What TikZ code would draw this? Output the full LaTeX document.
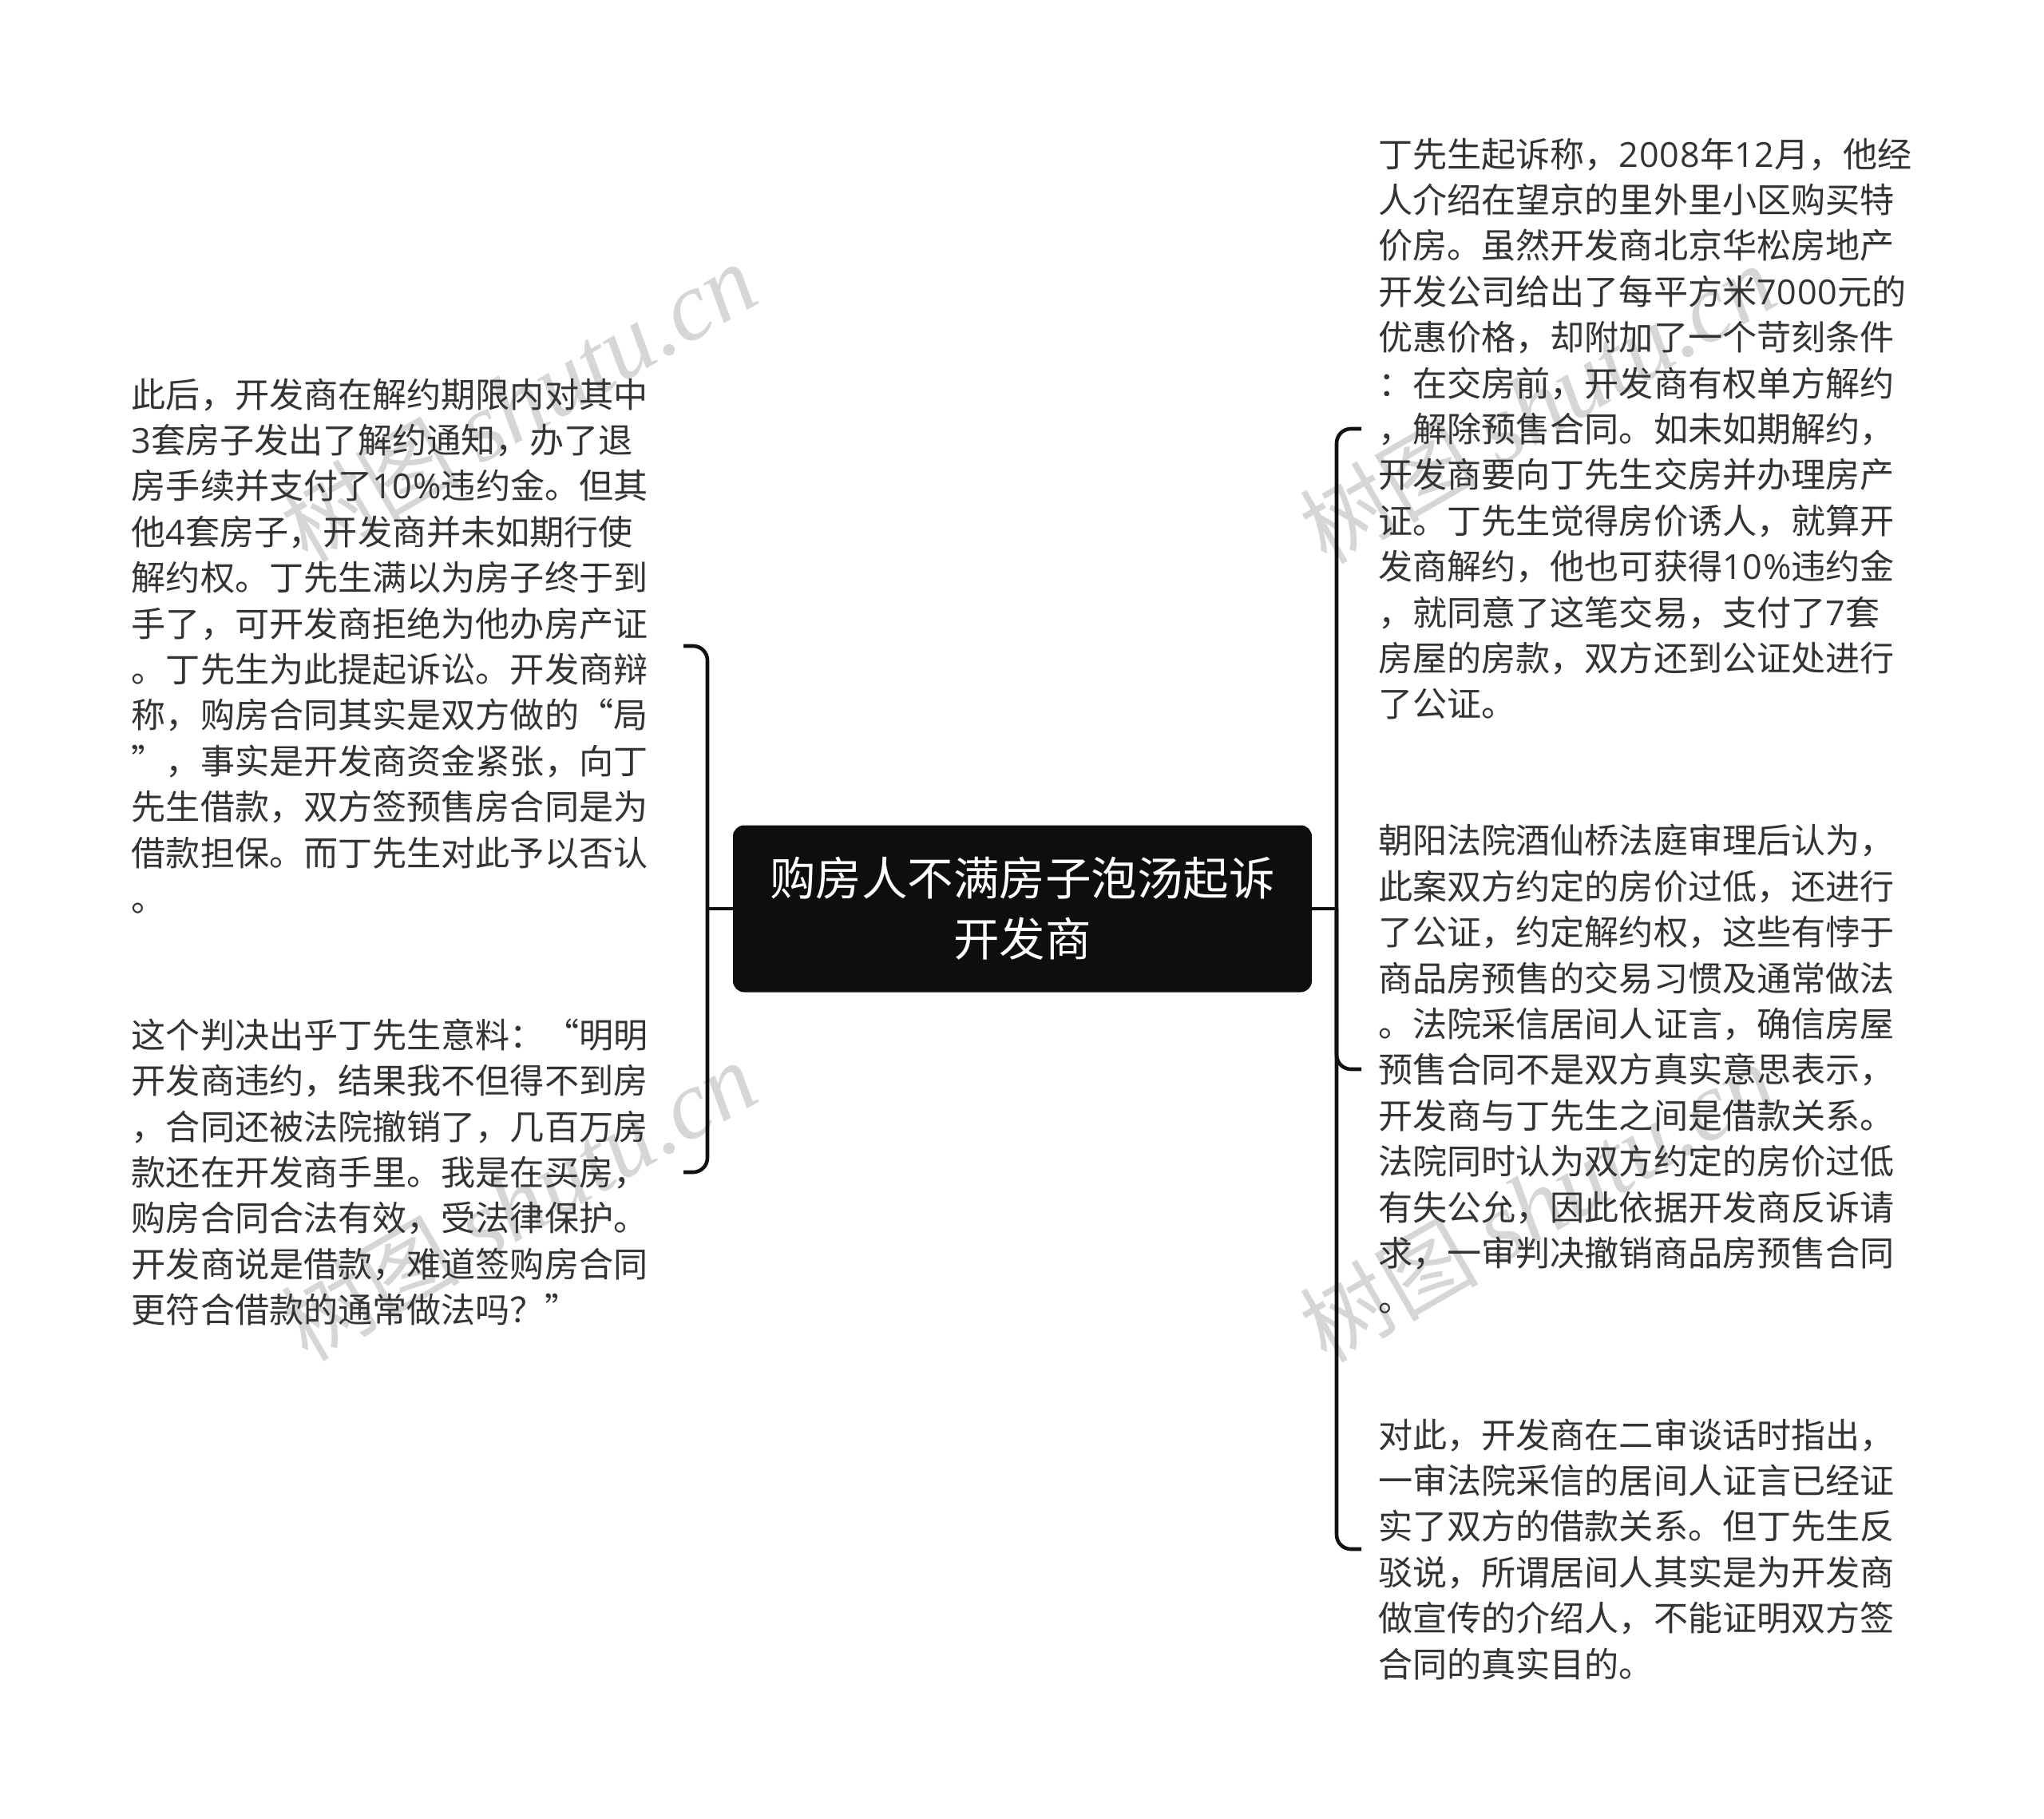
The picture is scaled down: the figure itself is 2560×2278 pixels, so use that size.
\documentclass[tikz,border=0pt]{standalone}
\usepackage{fontspec}
\setmainfont{Noto Sans CJK SC}
\newfontfamily\wmlatin{Liberation Serif}[ItalicFont=* Italic]
\newfontfamily\dgt{Open Sans}[LetterSpace=2]
\definecolor{inkline}{HTML}{111111}
\definecolor{boxfill}{HTML}{0E0E0E}
\definecolor{bodytext}{HTML}{333333}
\definecolor{wmgrey}{HTML}{D6D6D6}
\tikzset{
  leaf/.style={inner sep=0pt,align=left,text=bodytext,font=\fontsize{43.1}{57.4}\selectfont},
  leafl/.style={leaf,anchor=east,text width=691pt},
  leafr/.style={leaf,anchor=west,text width=720pt},
  root/.style={fill=boxfill,rounded corners=14pt,minimum width=725pt,minimum height=209pt,inner sep=0pt,align=center,text=white,font=\fontsize{57.5}{76}\selectfont},
  branch/.style={draw=inkline,line width=4.6pt},
  bracket/.style={branch,rounded corners=18pt},
  wm/.style={text=wmgrey,rotate=30,inner sep=0pt,anchor=center,font=\fontsize{112}{112}\selectfont}
}
\newcommand{\wmtext}{树图 {\wmlatin\itshape\fontsize{122}{122}\selectfont shutu.cn}}
\begin{document}
\begin{tikzpicture}[x=1pt,y=1pt]
\useasboundingbox (0,0) rectangle (2560,-2278);
\fill[white] (0,0) rectangle (2560,-2278);
\node[wm] (wa) at (650,-505) {\wmtext};
\node[wm] (wb) at (650,-1505) {\wmtext};
\node[wm] (wc) at (1926,-507) {\wmtext};
\node[wm] (wd) at (1926,-1507) {\wmtext};
\node[root] (c) at (1280.5,-1138) {购房人不满房子泡汤起诉\\开发商};
\node[leafl] (l1) at (856,-809) {此后，开发商在解约期限内对其中\\{\dgt 3}套房子发出了解约通知，办了退\\房手续并支付了{\dgt 10\%}违约金。但其\\他{\dgt 4}套房子，开发商并未如期行使\\解约权。丁先生满以为房子终于到\\手了，可开发商拒绝为他办房产证\\。丁先生为此提起诉讼。开发商辩\\称，购房合同其实是双方做的“局\\”，事实是开发商资金紧张，向丁\\先生借款，双方签预售房合同是为\\借款担保。而丁先生对此予以否认\\。};
\node[leafl] (l2) at (856,-1468) {这个判决出乎丁先生意料：“明明\\开发商违约，结果我不但得不到房\\，合同还被法院撤销了，几百万房\\款还在开发商手里。我是在买房，\\购房合同合法有效，受法律保护。\\开发商说是借款，难道签购房合同\\更符合借款的通常做法吗？”};
\node[leafr] (r1) at (1726,-537) {丁先生起诉称，{\dgt 2008}年{\dgt 12}月，他经\\人介绍在望京的里外里小区购买特\\价房。虽然开发商北京华松房地产\\开发公司给出了每平方米{\dgt 7000}元的\\优惠价格，却附加了一个苛刻条件\\：在交房前，开发商有权单方解约\\，解除预售合同。如未如期解约，\\开发商要向丁先生交房并办理房产\\证。丁先生觉得房价诱人，就算开\\发商解约，他也可获得{\dgt 10\%}违约金\\，就同意了这笔交易，支付了{\dgt 7}套\\房屋的房款，双方还到公证处进行\\了公证。};
\node[leafr] (r2) at (1726,-1339) {朝阳法院酒仙桥法庭审理后认为，\\此案双方约定的房价过低，还进行\\了公证，约定解约权，这些有悖于\\商品房预售的交易习惯及通常做法\\。法院采信居间人证言，确信房屋\\预售合同不是双方真实意思表示，\\开发商与丁先生之间是借款关系。\\法院同时认为双方约定的房价过低\\有失公允，因此依据开发商反诉请\\求，一审判决撤销商品房预售合同\\。};
\node[leafr] (r3) at (1726,-1940) {对此，开发商在二审谈话时指出，\\一审法院采信的居间人证言已经证\\实了双方的借款关系。但丁先生反\\驳说，所谓居间人其实是为开发商\\做宣传的介绍人，不能证明双方签\\合同的真实目的。};
\coordinate (lbus) at (886,-1138);
\coordinate (rbus) at (1674,-1138);
\draw[branch] (c.west) -- (lbus);
\draw[bracket] (l1.east) -| (lbus) |- (l2.east);
\draw[branch] (c.east) -- (rbus);
\draw[bracket] ([xshift=-21pt]r1.west) -| (rbus) |- ([xshift=-21pt]r2.west);
\draw[bracket] (rbus) |- ([xshift=-21pt]r3.west);
\end{tikzpicture}
\end{document}
